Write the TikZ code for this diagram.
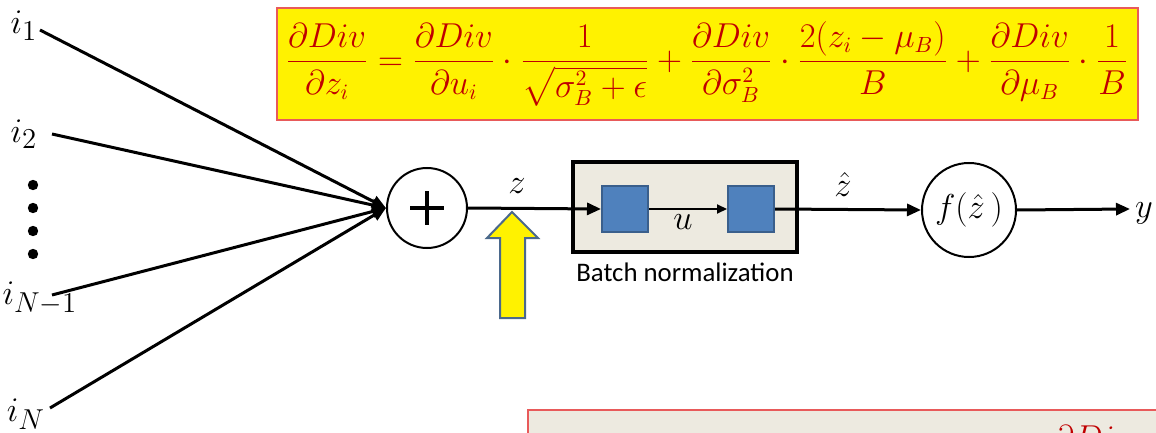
\documentclass[tikz,border=0pt]{standalone}
\usepackage{amsmath,amssymb}
\usepackage{fontspec}
\newfontfamily\bnfont{Carlito}
\usetikzlibrary{arrows.meta}

\definecolor{formulared}{RGB}{192,0,0}
\definecolor{boxred}{RGB}{232,90,90}
\definecolor{bnbeige}{RGB}{237,234,224}
\definecolor{bnblue}{RGB}{79,129,189}
\definecolor{bnedge}{RGB}{58,95,140}
\definecolor{hintedge}{RGB}{75,105,140}

\begin{document}
\begin{tikzpicture}[x=0.5pt, y=-0.5pt,
    conn/.style={line width=1.5pt, -{Triangle[length=7pt,width=6pt]}},
    inlabel/.style={font=\fontsize{19}{22}\selectfont},
    neuron/.style={circle, draw, line width=1pt, inner sep=0pt},
    bnsquare/.style={draw=bnedge, line width=1pt, fill=bnblue, minimum size=23pt, inner sep=0pt}]
    \clip (0,0) rectangle (1156,433);
    \fill[white] (0,0) rectangle (1156,433);

    % --- Formula ---
    \draw[fill=yellow, draw=boxred, line width=1pt] (277,8) rectangle (1138,120);
    \node[text=formulared, font=\fontsize{16.3}{19}\selectfont] (grad) at (707,64)
        {$\displaystyle \frac{\partial Div}{\partial z_i} = \frac{\partial Div}{\partial u_i}\cdot\frac{1}{\sqrt{\sigma_B^2+\epsilon}} + \frac{\partial Div}{\partial \sigma_B^2}\cdot\frac{2(z_i-\mu_B)}{B} + \frac{\partial Div}{\partial \mu_B}\cdot\frac{1}{B}$};

    % --- Inputs ---
    \node[inlabel] (i1) at (24,26) {$i_1$};
    \node[inlabel] (i2) at (24,134) {$i_2$};
    \node[inlabel] (iNm) at (40,298) {$i_{N-1}$};
    \node[inlabel] (iN) at (26,414) {$i_N$};
    \foreach \y in {185,208,231,254} {
        \fill (33,\y) circle (2.6pt);
    }
    \coordinate (s1) at (40,30);
    \coordinate (s2) at (52,134);
    \coordinate (sNm) at (52,295);
    \coordinate (sN) at (50,408);

    \node[neuron, minimum size=40pt] (sum) at (427,208) {};
    \draw[line width=2pt] (sum.center) ++(-17,0) -- ++(34,0);
    \draw[line width=2pt] (sum.center) ++(0,-17) -- ++(0,34);
    \foreach \s in {s1,s2,sNm,sN} {
        \draw[conn] (\s) -- (sum.west);
    }

    % --- Batch normalization ---
    \draw[fill=bnbeige, line width=2pt] (573,162) rectangle (797,252);
    \node[bnsquare] (bn1) at (625,209) {};
    \node[bnsquare] (bn2) at (751,209) {};
    \node[font=\bnfont\fontsize{13.4}{16}\selectfont] (bnlabel) at (685,272) {Batch normalization};
    \draw[conn] (sum.east) -- (bn1.west);
    \node[inlabel] (zlabel) at (517,186) {$z$};
    \draw[line width=1pt, -{Triangle[length=5pt,width=4.5pt]}] (bn1.east) -- (bn2.west);
    \node[inlabel] (ulabel) at (683,222) {$u$};

    % --- Activation ---
    \node[neuron, minimum size=47pt, font=\fontsize{19}{22}\selectfont] (act) at (969,210) {$f(\hat{z}\,)$};
    \draw[conn] (bn2.east) -- (act.west);
    \node[inlabel] (zhat) at (843,184) {$\hat{z}$};
    \coordinate (out) at (1130,209);
    \draw[conn] (act.east) -- (out);
    \node[inlabel, anchor=west] (ylabel) at (1128,213) {$y$};

    % --- Hint arrow ---
    \draw[fill=yellow, draw=hintedge, line width=1pt] (500,318) -- (500,238) -- (487,238) -- (512,212)
        -- (538,238) -- (525,238) -- (525,318) -- cycle;

    % --- Next box (cut off) ---
    \draw[fill=bnbeige, draw=boxred, line width=1pt] (528,410) rectangle (1180,480);
    \node[text=formulared, font=\fontsize{17}{20}\selectfont, anchor=north] (nextgrad) at (1093,418) {$\partial Div$};
\end{tikzpicture}
\end{document}
